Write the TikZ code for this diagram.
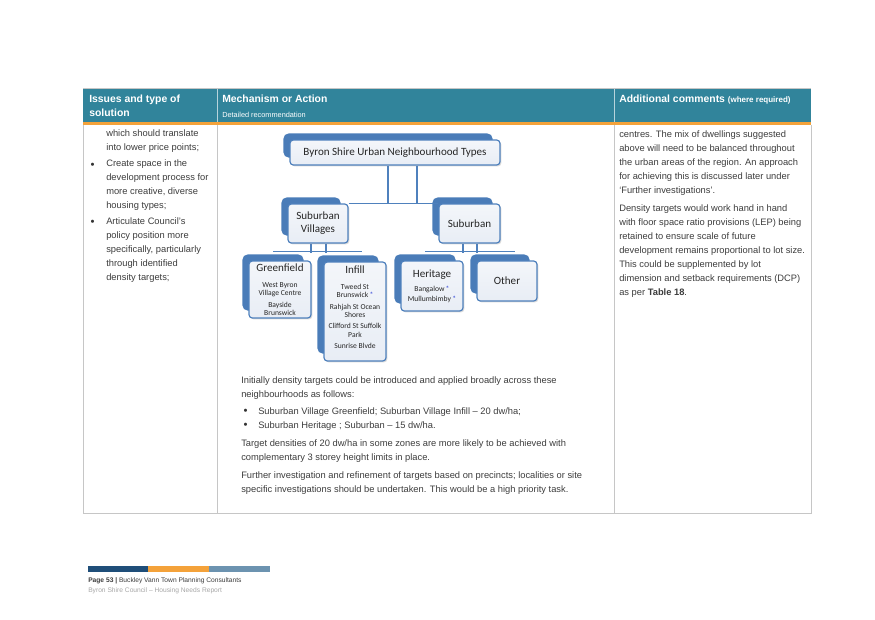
\documentclass[tikz,border=0pt]{standalone}
\usepackage{fontspec}
\setmainfont{Liberation Sans}
\newfontfamily\chartfont{Carlito}
\usetikzlibrary{positioning,calc,shadows,backgrounds}

\definecolor{headteal}{HTML}{31849B}
\definecolor{accorange}{HTML}{F4A23A}
\definecolor{chartblue}{HTML}{4F81BD}
\definecolor{tabblue}{HTML}{4A7CB8}
\definecolor{boxfill}{HTML}{E8EDF5}
\definecolor{rulegrey}{HTML}{C6C6C6}
\definecolor{bodygrey}{HTML}{3C3C3C}
\definecolor{footblue}{HTML}{1F4E79}
\definecolor{footsteel}{HTML}{6C93B0}
\definecolor{starblue}{HTML}{2B3FD6}

\tikzset{
  conn/.style={draw=chartblue, line width=0.9pt},
  backtab/.style={fill=tabblue, rounded corners=4pt},
  orgbox/.style={draw=chartblue, line width=0.9pt, rounded corners=2.5pt,
    top color=white!50!boxfill, bottom color=boxfill, inner sep=0pt,
    align=center, text=black!85,
    font=\chartfont\fontsize{8.3}{6.2}\selectfont,
    drop shadow={shadow xshift=1pt, shadow yshift=-1pt, opacity=0.3}},
  bodytxt/.style={inner sep=0pt, anchor=base west, align=left, text=bodygrey,
    font=\fontsize{7}{10.4}\selectfont},
  headtxt/.style={inner sep=0pt, anchor=base west, align=left, text=white,
    font=\bfseries\fontsize{7.8}{9.8}\selectfont},
  bulletdot/.style={inner sep=0pt, anchor=base, text=black!80,
    font=\fontsize{8.5}{10.4}\selectfont}
}
\newcommand{\sm}{\fontsize{5.7}{6.2}\selectfont}
\newcommand{\bluestar}{\,\textcolor{starblue}{*}}
\newcommand{\tabbehind}[1]{\fill[backtab] ($(#1.north west)+(-6,-6)$) rectangle ($(#1.south east)+(-8,-8)$);}

\begin{document}
\begin{tikzpicture}[x=0.75pt, y=-0.75pt]
    \useasboundingbox (0,0) rectangle (875,619);

    \fill[headteal] (83,89) rectangle (811,122);
    \fill[accorange] (83,122) rectangle (811,125);
    \draw[rulegrey, line width=0.5pt] (83,88.5) -- (811,88.5);
    \draw[white!65!headteal, line width=0.6pt] (217,89) -- (217,122);
    \draw[white!65!headteal, line width=0.6pt] (614,89) -- (614,122);
    \draw[rulegrey, line width=0.6pt] (83,125) -- (83,513) -- (811,513) -- (811,125);
    \draw[rulegrey, line width=0.6pt] (217,125) -- (217,513);
    \draw[rulegrey, line width=0.6pt] (614,125) -- (614,513);

    % multi-line texts sit on the baseline of their last line
    \node[headtxt] (issues) at (89,116) {Issues and type of\\solution};
    \node[headtxt] (mech) at (222,102) {Mechanism or Action};
    \node[headtxt, font=\fontsize{5.5}{7}\selectfont] (detail) at (222,117) {Detailed recommendation};
    \node[headtxt] (addcom) at (619,102) {Additional comments {\fontsize{6}{8}\selectfont(where required)}};

    \node[bodytxt] (leftA) at (106,150) {which should translate\\into lower price points;};
    \node[bulletdot] (dotA) at (92.5,168) {•};
    \node[bodytxt] (leftB) at (106,208) {Create space in the\\development process for\\more creative, diverse\\housing types;};
    \node[bulletdot] (dotB) at (92.5,225) {•};
    \node[bodytxt] (leftC) at (106,280) {Articulate Council’s\\policy position more\\specifically, particularly\\through identified\\density targets;};

    \node[orgbox, minimum width=157.5pt, minimum height=18.75pt] (top) at (395,152.5) {Byron Shire Urban Neighbourhood Types};
    \node[orgbox, minimum width=45pt, minimum height=29.25pt] (sv) at (318,223.5) {Suburban\\[3.5pt]Villages};
    \node[orgbox, minimum width=45.75pt, minimum height=29.25pt] (sub) at (469.5,223.5) {Suburban};
    \node[orgbox, minimum width=46.5pt, minimum height=42.75pt] (gf) at (280,289.5)
        {Greenfield\\[5.8pt]\sm West Byron\\\sm Village Centre\\[2.8pt]\sm Bayside\\\sm Brunswick};
    \node[orgbox, minimum width=46.5pt, minimum height=74.25pt] (inf) at (355,311.5)
        {Infill\\[6pt]\sm Tweed St\\\sm Brunswick\bluestar\\[2.3pt]\sm Rahjah St Ocean\\\sm Shores\\[2.3pt]\sm Clifford St Suffolk\\\sm Park\\[2.3pt]\sm Sunrise Blvde\\[0.5pt]\mbox{}};
    \node[orgbox, minimum width=46.5pt, minimum height=37.5pt] (her) at (432,286)
        {Heritage\\[4.3pt]\sm Bangalow\bluestar\\[1.3pt]\sm Mullumbimby\bluestar};
    \node[orgbox, minimum width=45pt, minimum height=30pt] (oth) at (507,281) {Other};

    \begin{scope}[on background layer]
    \tabbehind{top}
    \tabbehind{sv}
    \tabbehind{sub}
    \tabbehind{gf}
    \tabbehind{inf}
    \tabbehind{her}
    \tabbehind{oth}
    \draw[conn] ($(top.south)+(-7,0)$) coordinate (topl) -- (topl |- sv.north);
    \draw[conn] ($(top.south)+(22,0)$) coordinate (topr) -- (topr |- sv.north);
    \draw[conn] (sv.north east) -- (sub.north west);
    \draw[conn] ($(sv.south)+(-7,0)$) -- ++(0,9);
    \draw[conn] ($(sv.south)+(8,0)$) -- ++(0,9);
    \draw[conn] ($(gf.north)+(-7,-9)$) coordinate (gfbar) -- ($(gfbar -| inf.north)+(7,0)$);
    \draw[conn] ($(sub.south)+(-6.5,0)$) -- ++(0,9);
    \draw[conn] ($(sub.south)+(7.5,0)$) -- ++(0,9);
    \draw[conn] ($(her.north)+(-7,-9)$) coordinate (herbar) -- ($(herbar -| oth.north)+(8,0)$);
    \end{scope}

    \node[bodytxt] (midA) at (241,397) {Initially density targets could be introduced and applied broadly across these\\neighbourhoods as follows:};
    \node[bulletdot] (dotC) at (245.5,414) {•};
    \node[bodytxt] (midB) at (258,414) {Suburban Village Greenfield; Suburban Village Infill – 20 dw/ha;};
    \node[bulletdot] (dotD) at (245.5,428) {•};
    \node[bodytxt] (midC) at (258,428) {Suburban Heritage ; Suburban – 15 dw/ha.};
    \node[bodytxt] (midD) at (241,460) {Target densities of 20 dw/ha in some zones are more likely to be achieved with\\complementary 3 storey height limits in place.};
    \node[bodytxt] (midE) at (241,492) {Further investigation and refinement of targets based on precincts; localities or site\\specific investigations should be undertaken. This would be a high priority task.};

    \node[bodytxt] (rightA) at (619,193) {centres. The mix of dwellings suggested\\above will need to be balanced throughout\\the urban areas of the region. An approach\\for achieving this is discussed later under\\‘Further investigations’.};
    \node[bodytxt] (rightB) at (619,295) {Density targets would work hand in hand\\with floor space ratio provisions (LEP) being\\retained to ensure scale of future\\development remains proportional to lot size.\\This could be supplemented by lot\\dimension and setback requirements (DCP)\\as per \textbf{Table 18}.};

    \fill[footblue] (88,566) rectangle (148,572);
    \fill[accorange] (148,566) rectangle (209,572);
    \fill[footsteel] (209,566) rectangle (270,572);
    \node[bodytxt, font=\fontsize{5}{6}\selectfont] (pageno) at (88,582) {\textbf{Page 53 |} Buckley Vann Town Planning Consultants};
    \node[bodytxt, text=black!35, font=\fontsize{5}{6}\selectfont] (report) at (88,592) {Byron Shire Council – Housing Needs Report};
\end{tikzpicture}
\end{document}
